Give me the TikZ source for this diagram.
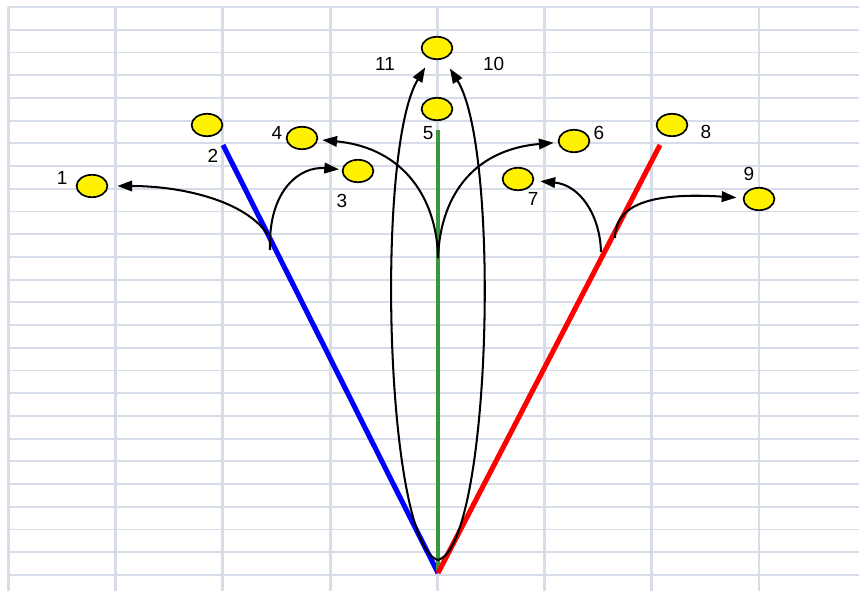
\documentclass[tikz,border=0pt]{standalone}
\usepackage{fontspec}
\setmainfont{Liberation Sans}
\usepackage{xcolor}
\usetikzlibrary{positioning, arrows.meta, shapes.geometric}

\definecolor{gridc}{RGB}{214,220,232}
\definecolor{stemgreen}{RGB}{58,150,58}

\begin{document}
\begin{tikzpicture}[x=0.025cm, y=-0.025cm,
  ball/.style={draw, ellipse, fill=yellow, line width=1.2pt, minimum width=0.77cm, minimum height=0.56cm, inner sep=0pt},
  num/.style={font=\fontsize{13.5}{15}\selectfont, inner sep=0pt},
  jump/.style={-{Triangle[length=10.5pt,width=7.5pt]}, line width=1.45pt, shorten >=4pt},
  stem/.style={line width=3.6pt}]

\useasboundingbox (0,0) rectangle (859,591);

% Grid
\foreach \i in {0,...,25}
  \draw[gridc, line width=1.3pt] (8,7+22.72*\i) -- (859,7+22.72*\i);
\foreach \i in {0,...,7}
  \draw[gridc, line width=2pt] (8.5+107.2*\i,7) -- (8.5+107.2*\i,591);

% Stems
\coordinate (base) at (438,573);
\coordinate (bluetop) at (223,145);
\coordinate (greentop) at (438,130);
\coordinate (greenbot) at (438,570);
\coordinate (redtop) at (660,145);
\draw[stem, blue] (bluetop) -- (base);
\draw[stem, stemgreen, line width=3pt] (greentop) -- (greenbot);
\draw[stem, red] (redtop) -- (base);

% Balls
\node[ball] (p1) at (92,186) {};
\node[ball] (p2) at (207,125) {};
\node[ball] (p3) at (358,171) {};
\node[ball] (p4) at (302,138) {};
\node[ball] (p5) at (437,109) {};
\node[ball] (top) at (437,48) {};
\node[ball] (p6) at (574,141) {};
\node[ball] (p7) at (518,179) {};
\node[ball] (p8) at (672,125) {};
\node[ball] (p9) at (759,199) {};

% Numbers
\node[num, left=0.2cm of p1, yshift=0.2cm] {1};
\node[num, below=0.29cm of p2, xshift=0.15cm] {2};
\node[num, below=0.27cm of p3, xshift=-0.4cm] {3};
\node[num, left=0.08cm of p4, yshift=0.12cm] {4};
\node[num, below=0.14cm of p5, xshift=-0.22cm] {5};
\node[num, right=0.08cm of p6, yshift=0.2cm] {6};
\node[num, below=0.04cm of p7, xshift=0.38cm] {7};
\node[num, right=0.3cm of p8, yshift=-0.18cm] {8};
\node[num, above=0.14cm of p9, xshift=-0.25cm] {9};
\node[num, right=0.74cm of top, yshift=-0.4cm] {10};
\node[num, left=0.64cm of top, yshift=-0.4cm] {11};

% Jumps
\coordinate (b1) at (268,235);
\coordinate (b3) at (270,250);
\coordinate (g1) at (438,258);
\coordinate (r7) at (601,252);
\coordinate (r9) at (615,238);
\coordinate (loop) at (438,560);

\draw[jump, shorten >=6.5pt] (b1) .. controls (245,200) and (180,186) .. (p1);
\draw[jump, shorten >=2pt] (b3) .. controls (268,190) and (300,166) .. (p3);
\draw[jump, shorten >=3pt] (g1) .. controls (437,200) and (405,148) .. (p4);
\draw[jump, shorten >=3pt] (g1) .. controls (440,200) and (470,150) .. (p6);
\draw[jump, shorten >=4.5pt] (r7) .. controls (600,215) and (580,185) .. (p7);
\draw[jump, shorten >=4.5pt] (r9) .. controls (615,205) and (650,192) .. (p9);
\draw[jump, shorten >=7pt] (loop) .. controls (385,545) and (375,150) .. (top);
\draw[jump, shorten >=8pt] (loop) .. controls (491,545) and (501,150) .. (top);
\end{tikzpicture}
\end{document}
